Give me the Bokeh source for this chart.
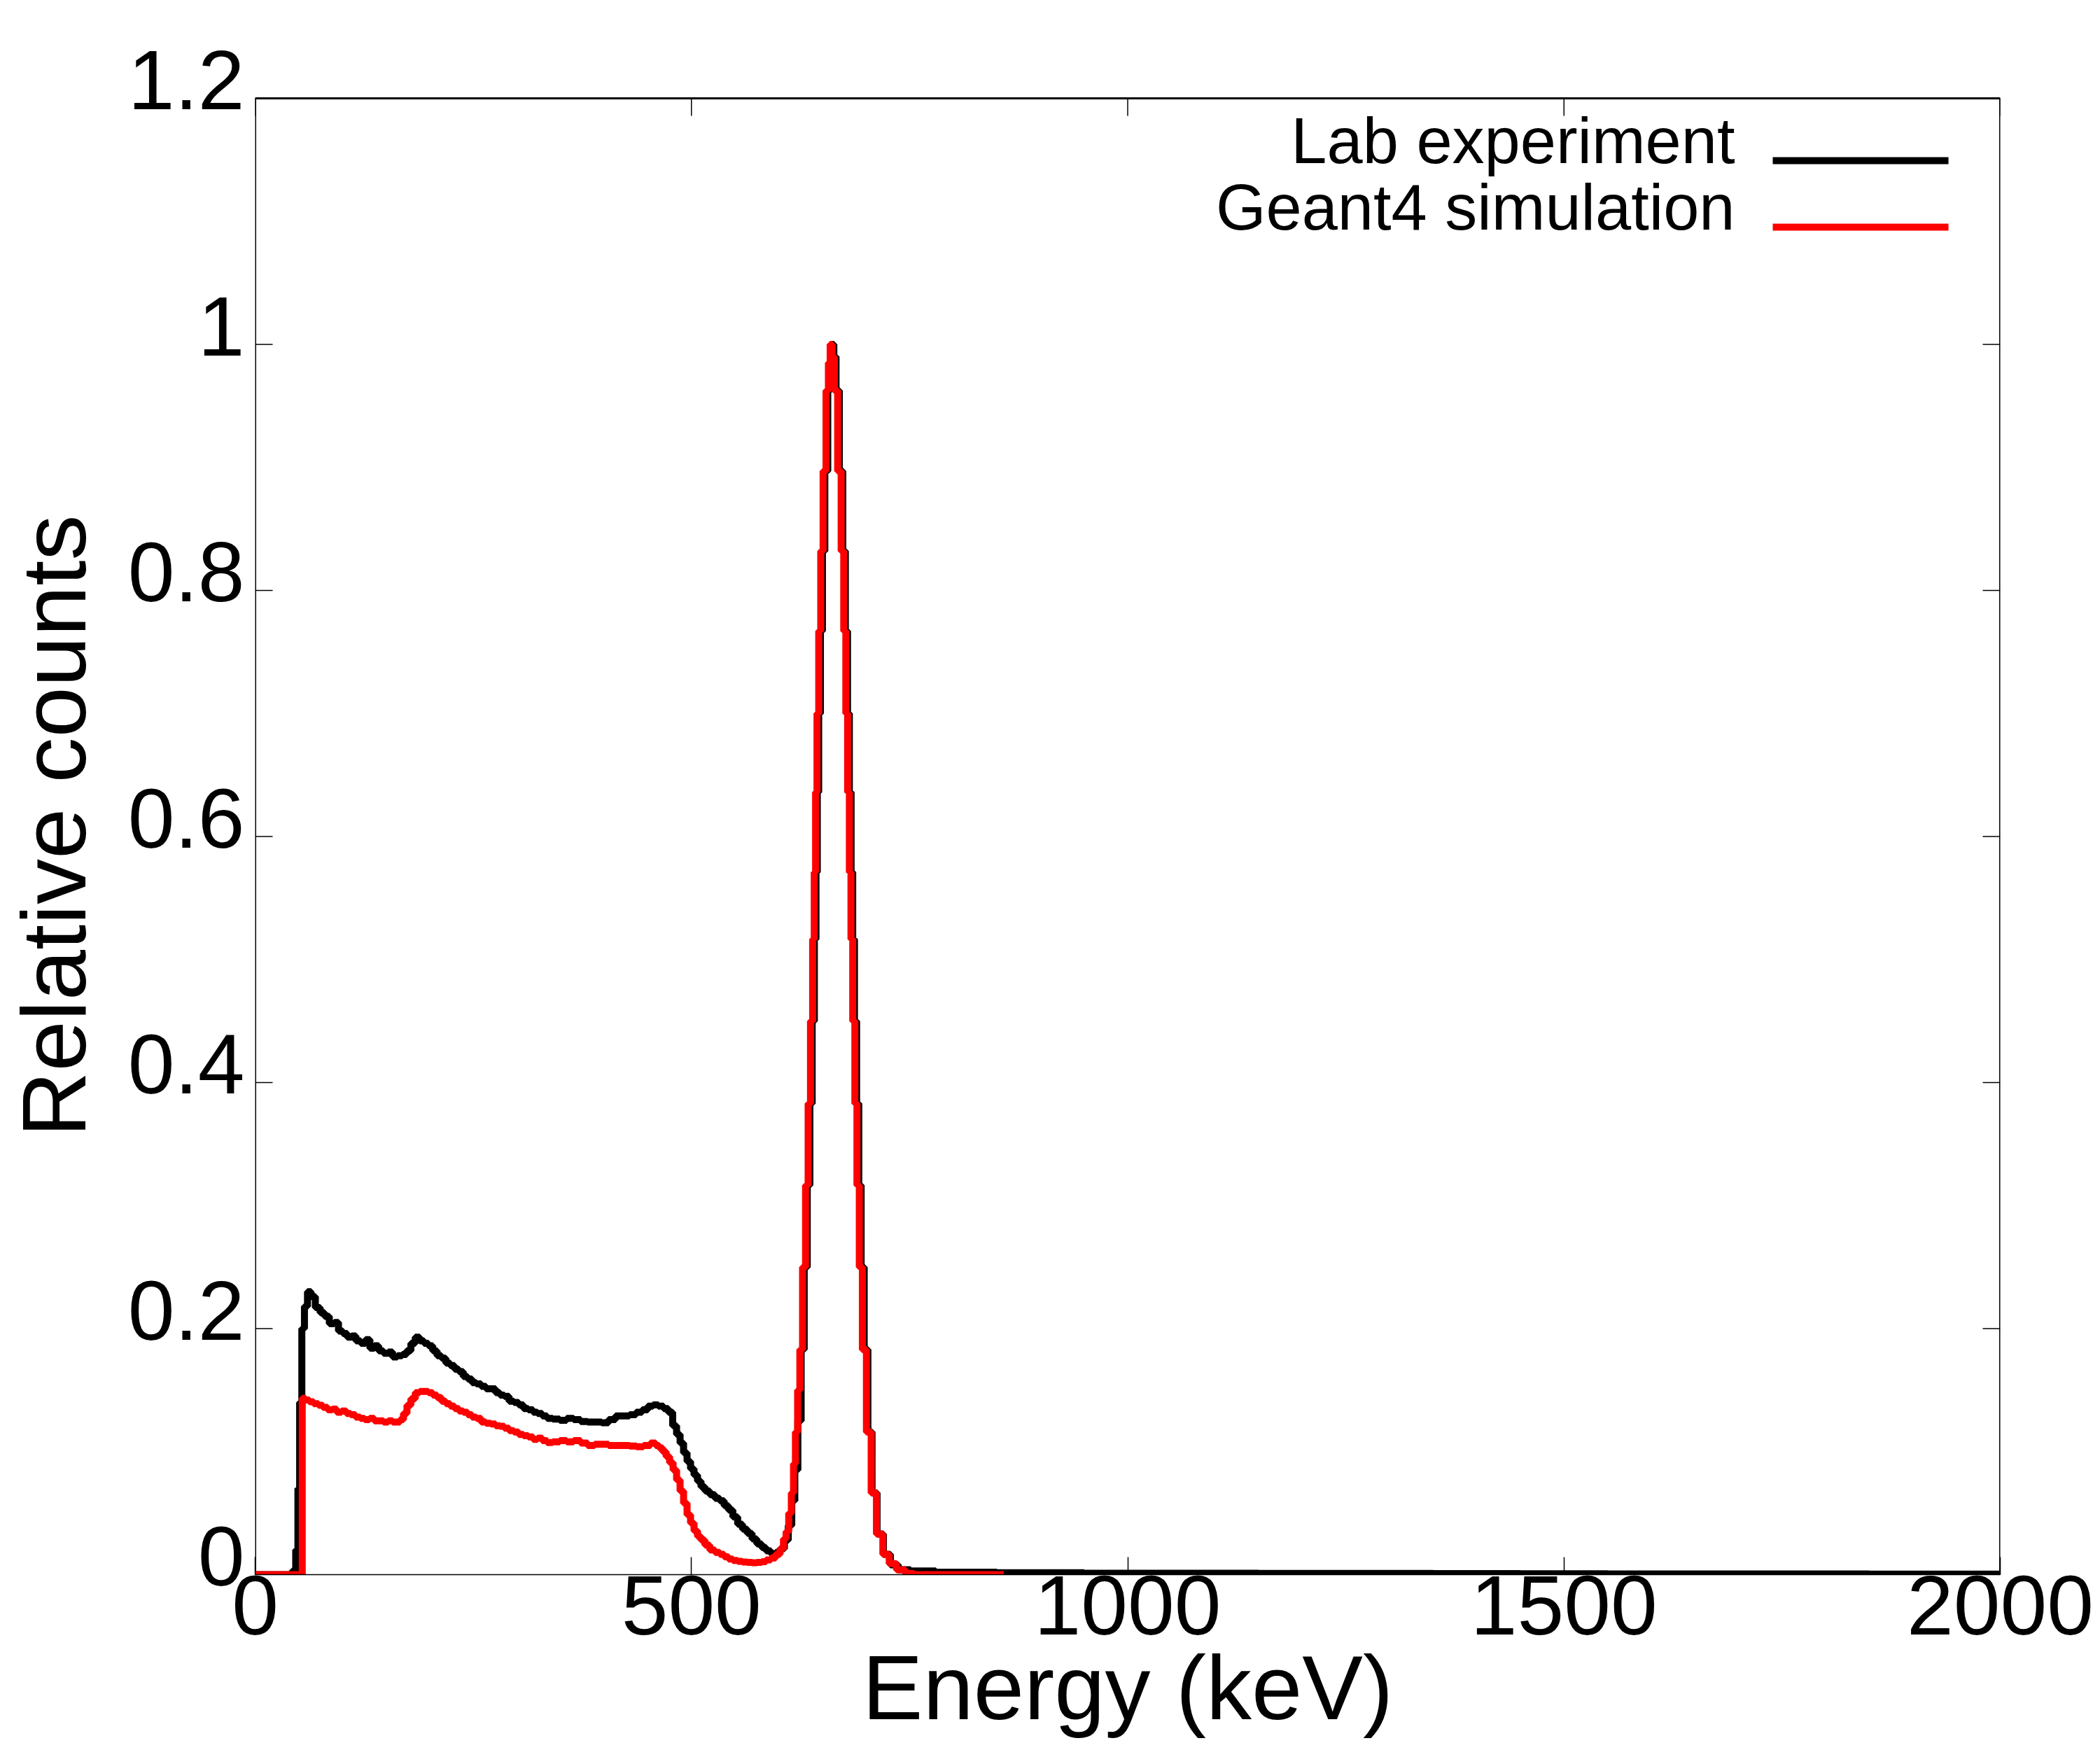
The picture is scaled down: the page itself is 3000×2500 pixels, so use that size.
from bokeh.plotting import figure
from bokeh.models import (Range1d, FixedTicker, Label, BoxAnnotation, LinearAxis)
from bokeh.embed import file_html
from bokeh.resources import INLINE

# ---------------- data ----------------
X_TICKS = [0, 500, 1000, 1500, 2000]
Y_TICKS = [0, 0.2, 0.4, 0.6, 0.8, 1.0, 1.2]
Y_TICK_LABELS = ["0", "0.2", "0.4", "0.6", "0.8", "1", "1.2"]

SERIES_NAMES = ["Lab experiment", "Geant4 simulation"]
SERIES_COLORS = ["black", "red"]

# Lab experiment (energy in keV, relative counts)
E_LAB = [
    0, 20, 40, 45, 48, 50, 52, 55, 58, 62,
    66, 72, 77, 82, 88, 93, 98, 103, 108, 113,
    118, 124, 129, 134, 139, 144, 150, 155, 160, 166,
    171, 176, 181, 186, 191, 196, 201, 206, 211, 216,
    221, 226, 231, 236, 241, 246, 251, 256, 262, 267,
    273, 278, 283, 288, 294, 299, 305, 310, 316, 321,
    326, 332, 337, 345, 353, 361, 369, 377, 385, 393,
    401, 409, 417, 425, 433, 440, 447, 453, 459, 465,
    471, 476, 481, 485, 489, 493, 497, 501, 505, 509,
    513, 518, 524, 530, 535, 540, 545, 550, 556, 561,
    567, 572, 578, 583, 588, 594, 599, 604, 609, 613,
    617, 620, 624, 627.5, 631, 634.5, 637, 639.8, 642, 643.5,
    645, 646.7, 649, 651.3, 654.5, 658, 660, 662, 664.5, 667,
    672, 675, 677.8, 680, 682, 684, 685.7, 688, 690.6, 693,
    696, 700, 704.5, 709.5, 716, 724, 732, 742, 760, 800,
    900, 1000, 1100, 1200, 1300, 1400, 1500, 1600, 1700, 1800,
    1900, 2000,
]
C_LAB = [
    0, 0, 0, 0.003, 0.02, 0.07, 0.14, 0.2, 0.218, 0.23,
    0.226, 0.217, 0.213, 0.21, 0.204, 0.205, 0.198, 0.196, 0.193, 0.194,
    0.19, 0.188, 0.191, 0.184, 0.186, 0.182, 0.18, 0.181, 0.177, 0.178,
    0.179, 0.182, 0.188, 0.193, 0.19, 0.188, 0.186, 0.182, 0.178, 0.176,
    0.172, 0.17, 0.167, 0.165, 0.161, 0.159, 0.156, 0.155, 0.153, 0.151,
    0.151, 0.148, 0.146, 0.145, 0.141, 0.14, 0.138, 0.135, 0.134, 0.132,
    0.131, 0.129, 0.127, 0.1265, 0.1255, 0.127, 0.126, 0.1245, 0.124, 0.124,
    0.1235, 0.126, 0.129, 0.129, 0.13, 0.132, 0.134, 0.137, 0.138, 0.137,
    0.135, 0.132, 0.121, 0.114, 0.107, 0.099, 0.092, 0.086, 0.081, 0.076,
    0.0714, 0.068, 0.065, 0.062, 0.06, 0.056, 0.0525, 0.047, 0.041, 0.037,
    0.0336, 0.029, 0.025, 0.022, 0.0193, 0.017, 0.018, 0.021, 0.028, 0.04,
    0.06, 0.085, 0.125, 0.183, 0.25, 0.3165, 0.383, 0.45, 0.5165, 0.571,
    0.636, 0.70, 0.767, 0.832, 0.897, 0.9625, 0.985, 1.0, 0.99, 0.9625,
    0.897, 0.832, 0.767, 0.70, 0.636, 0.571, 0.5165, 0.45, 0.383, 0.3165,
    0.25, 0.183, 0.116, 0.0665, 0.033, 0.0165, 0.008, 0.004, 0.003, 0.002,
    0.0015, 0.0012, 0.0012, 0.001, 0.001, 0.0008, 0.0007, 0.0006, 0.0005, 0.0005,
    0.0004, 0.0004,
]

# Geant4 simulation (energy in keV, relative counts)
E_SIM = [
    0, 20, 40, 50, 53, 55, 60, 64, 70, 75,
    80, 86, 91, 96, 102, 107, 112, 118, 123, 128,
    134, 139, 144, 150, 155, 160, 164, 168, 172, 176,
    181, 186, 191, 196, 201, 206, 211, 216, 221, 226,
    231, 236, 241, 246, 251, 256, 262, 267, 273, 278,
    283, 288, 294, 299, 305, 310, 316, 321, 326, 332,
    337, 345, 353, 361, 369, 377, 385, 393, 401, 409,
    417, 425, 433, 441, 449, 457, 461, 465, 469, 473,
    477, 481, 485, 489, 493, 497, 501, 505, 509, 513,
    518, 524, 530, 535, 540, 545, 550, 556, 561, 567,
    572, 578, 583, 588, 594, 599, 604, 607, 610, 613,
    616, 618, 620.4, 623, 625.5, 629.2, 632.4, 635.1, 637.8, 640,
    641.5, 643.1, 644.7, 647.1, 649.3, 652.5, 656, 658, 660, 662.5,
    665.2, 670, 673.2, 675.9, 678, 680, 682, 683.7, 686, 688.6,
    690.8, 694, 697.8, 703.3, 708.7, 715.4, 723.4, 730, 740, 750,
    760, 800, 858,
]
C_SIM = [
    0, 0, 0, 0, 0, 0.1434, 0.142, 0.1405, 0.139, 0.1377,
    0.136, 0.134, 0.1345, 0.132, 0.133, 0.131, 0.13, 0.128, 0.127, 0.126,
    0.127, 0.125, 0.125, 0.124, 0.125, 0.124, 0.124, 0.126, 0.131, 0.1377,
    0.143, 0.148, 0.149, 0.149, 0.148, 0.146, 0.144, 0.141, 0.139, 0.137,
    0.135, 0.133, 0.132, 0.13, 0.128, 0.127, 0.124, 0.123, 0.1225, 0.121,
    0.1206, 0.119, 0.117, 0.116, 0.114, 0.113, 0.112, 0.11, 0.111, 0.109,
    0.1074, 0.108, 0.109, 0.108, 0.109, 0.107, 0.105, 0.106, 0.106, 0.105,
    0.105, 0.105, 0.1045, 0.104, 0.105, 0.107, 0.105, 0.103, 0.1, 0.096,
    0.091, 0.085, 0.077, 0.068, 0.058, 0.0486, 0.042, 0.0355, 0.031, 0.028,
    0.024, 0.0201, 0.018, 0.0165, 0.0145, 0.0127, 0.0115, 0.0108, 0.0102, 0.0099,
    0.0097, 0.0099, 0.0105, 0.012, 0.0135, 0.0165, 0.021, 0.029, 0.035, 0.05,
    0.0665, 0.09, 0.116, 0.15, 0.183, 0.25, 0.3165, 0.383, 0.45, 0.5165,
    0.571, 0.636, 0.70, 0.767, 0.832, 0.897, 0.9625, 0.985, 1.0, 0.99,
    0.9625, 0.897, 0.832, 0.767, 0.70, 0.636, 0.571, 0.5165, 0.45, 0.383,
    0.3165, 0.25, 0.183, 0.116, 0.0665, 0.033, 0.0165, 0.009, 0.004, 0.001,
    0, 0, 0,
]
assert len(E_LAB) == len(C_LAB) and len(E_SIM) == len(C_SIM)

# ---------------- layout ----------------
FONT = "Liberation Sans"
BOX_W, BOX_H = 2493, 2109   # the drawn plot box (0..2000 x 0..1.2)
EXTRA_TOP = 30              # invisible frame space above the box (room for the "1.2" label)
X_MAX, Y_MAX = 2000, 1.2
LINE_W = 10
TICK_LEN = 25
Y_LABEL_RAISE = 26          # px: the y tick labels sit a little above their ticks


def fx(px):  # box pixels from left -> data x
    return X_MAX * px / BOX_W


def dy(px):  # pixel length -> data y length
    return Y_MAX * px / BOX_H


def fy(px):  # box pixels from top -> data y
    return Y_MAX - dy(px)


Y_TOP = Y_MAX + dy(EXTRA_TOP)

p = figure(
    frame_width=BOX_W, frame_height=BOX_H + EXTRA_TOP,
    x_range=Range1d(0, X_MAX), y_range=Range1d(0, Y_TOP),
    y_axis_location=None,
    output_backend="svg", toolbar_location=None,
    min_border_left=352, min_border_right=139,
    min_border_top=140 - EXTRA_TOP, min_border_bottom=235,
    background_fill_color="white", border_fill_color="white",
)
p.grid.visible = False
p.outline_line_color = None

# range used only for placing the y tick labels slightly above the ticks
s = dy(Y_LABEL_RAISE)
p.extra_y_ranges = {"ylab": Range1d(-s, Y_TOP - s)}
yax = LinearAxis(y_range_name="ylab")
p.add_layout(yax, "left")

xax = p.xaxis[0]
for ax in (xax, yax):
    ax.major_tick_out = 0
    ax.minor_tick_line_color = None
    ax.major_tick_line_width = 1.5
    ax.axis_line_width = 1.5
    ax.major_label_text_font = FONT
    ax.major_label_text_font_size = "120px"
    ax.major_label_text_color = "black"
    ax.axis_label_text_font = FONT
    ax.axis_label_text_font_size = "130px"
    ax.axis_label_text_font_style = "normal"
    ax.axis_label_text_color = "black"

xax.major_tick_in = TICK_LEN
xax.ticker = FixedTicker(ticks=X_TICKS)
xax.axis_label = "Energy (keV)"
xax.major_label_standoff = 2
xax.axis_label_standoff = 0

yax.major_tick_in = 0
yax.major_tick_line_color = None
yax.axis_line_color = None
yax.ticker = FixedTicker(ticks=Y_TICKS)
yax.major_label_overrides = {t: l for t, l in zip(Y_TICKS, Y_TICK_LABELS)}
yax.axis_label = "Relative counts"
yax.major_label_standoff = 15
yax.axis_label_standoff = 30

# plot box (left, right and top edges; the bottom is the x axis line)
BOX_LINE = dict(line_color="black", line_width=1.5)
p.segment(x0=[0, X_MAX, 0], x1=[0, X_MAX, X_MAX], y0=[0, 0, Y_MAX], y1=[Y_MAX, Y_MAX, Y_MAX],
          line_color="black", line_width=3)

# inner ticks on the left, top and right edges
n_y = len(Y_TICKS)
n_x = len(X_TICKS)
p.segment(x0=[0] * n_y, x1=[fx(TICK_LEN)] * n_y, y0=Y_TICKS, y1=Y_TICKS, **BOX_LINE)
p.segment(x0=[X_MAX] * n_y, x1=[X_MAX - fx(TICK_LEN)] * n_y, y0=Y_TICKS, y1=Y_TICKS, **BOX_LINE)
p.segment(x0=X_TICKS, x1=X_TICKS, y0=[Y_MAX] * n_x, y1=[Y_MAX - dy(TICK_LEN)] * n_x, **BOX_LINE)

# data
p.step(E_LAB, C_LAB, mode="center", line_color=SERIES_COLORS[0], line_width=LINE_W)
p.step(E_SIM, C_SIM, mode="center", line_color=SERIES_COLORS[1], line_width=LINE_W)

# legend (text left of the line sample)
LEG_TEXT_RIGHT = 2114     # box px
LEG_LINE_LEFT, LEG_LINE_RIGHT = 2168, 2419
LEG_ROWS = [89, 184]      # box px from top, line centre
for name, color, row in zip(SERIES_NAMES, SERIES_COLORS, LEG_ROWS):
    p.add_layout(Label(
        x=fx(LEG_TEXT_RIGHT), y=fy(row - 29), text=name,
        text_align="right", text_baseline="middle",
        text_font=FONT, text_font_size="92px", text_color="black",
    ))
    p.add_layout(BoxAnnotation(
        left=fx(LEG_LINE_LEFT), right=fx(LEG_LINE_RIGHT),
        top=fy(row - 5), bottom=fy(row + 5),
        fill_color=color, fill_alpha=1.0, line_color=None,
    ))

open("out.html", "w").write(file_html(p, INLINE))
